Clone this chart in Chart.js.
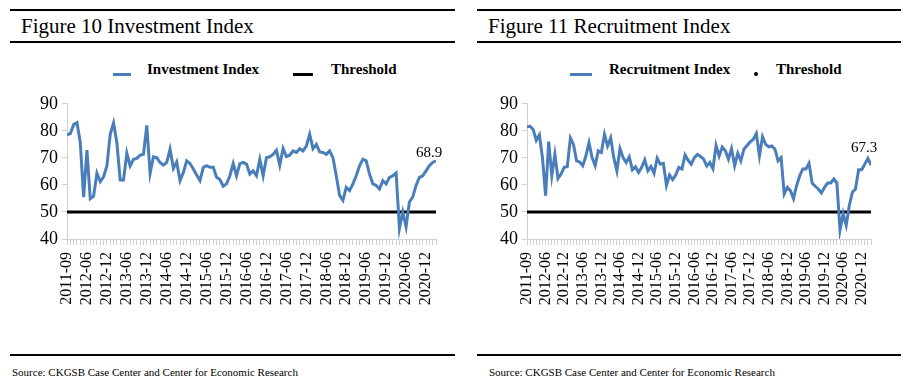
<!DOCTYPE html>
<html>
<head>
<meta charset="utf-8">
<script src="https://cdn.jsdelivr.net/npm/chart.js@4.4.1/dist/chart.umd.min.js"></script>
<style>
  body { margin: 0; width: 908px; height: 388px; background: #fff; position: relative; overflow: hidden; font-family: 'Liberation Serif', serif; color: #000; }
  .rule { position: absolute; height: 2px; background: #000; }
  .title { position: absolute; top: 16px; font-size: 21px; line-height: 21px; white-space: nowrap; }
  .leg { position: absolute; top: 62px; font-size: 15px; line-height: 15px; font-weight: bold; white-space: nowrap; }
  .swatch { position: absolute; top: 73px; height: 3px; }
  .dot { position: absolute; top: 72px; width: 4px; height: 4px; border-radius: 50%; background: #000; }
  .source { position: absolute; top: 367px; font-size: 11px; line-height: 11px; white-space: nowrap; }
  canvas { position: absolute; }
</style>
</head>
<body>
  <!-- left panel -->
  <div class="rule" style="left:10px; width:445px; top:9px;"></div>
  <div class="title" style="left:21px;">Figure 10 Investment Index</div>
  <div class="rule" style="left:10px; width:445px; top:41px;"></div>
  <div class="swatch" style="left:113px; width:18px; background:#4a7ebb;"></div>
  <div class="leg" style="left:147px;">Investment Index</div>
  <div class="swatch" style="left:293px; width:20px; background:#000;"></div>
  <div class="leg" style="left:331px;">Threshold</div>
  <canvas id="investChart" width="455" height="226" style="left:0px; top:89px;"></canvas>
  <div class="rule" style="left:10px; width:445px; top:354px;"></div>
  <div class="source" style="left:12px;">Source: CKGSB Case Center and Center for Economic Research</div>

  <!-- right panel -->
  <div class="rule" style="left:477px; width:424px; top:9px;"></div>
  <div class="title" style="left:488px;">Figure 11 Recruitment Index</div>
  <div class="rule" style="left:477px; width:424px; top:41px;"></div>
  <div class="swatch" style="left:570px; width:22px; background:#4a7ebb;"></div>
  <div class="leg" style="left:609px;">Recruitment Index</div>
  <div class="dot" style="left:754px;"></div>
  <div class="leg" style="left:776px;">Threshold</div>
  <canvas id="recruitChart" width="430" height="226" style="left:460px; top:89px;"></canvas>
  <div class="rule" style="left:477px; width:424px; top:354px;"></div>
  <div class="source" style="left:489px;">Source: CKGSB Case Center and Center for Economic Research</div>

<script>
// one label every 6 months, as printed under the axis
const tickLabels = ['2011-09', '2012-06', '2012-12', '2013-06', '2013-12', '2014-06', '2014-12',
  '2015-06', '2015-12', '2016-06', '2016-12', '2017-06', '2017-12', '2018-06', '2018-12',
  '2019-06', '2019-12', '2020-06', '2020-12'];

const yTicks = [40, 50, 60, 70, 80, 90];
const threshold = 50;

// monthly values, 2011-09 .. 2020-12
const investmentIndex = [
  78.5, 79, 82.3, 83, 75.6, 55.5, 72.9, 54.9, 55.8, 64.3,
  61.2, 63, 67, 78.7, 82.9, 75.6, 61.8, 61.8, 71.7, 67,
  69.5, 69.8, 71, 71.3, 82, 64.3, 70.4, 70.1, 68.3, 67.3,
  68.3, 73.2, 66.1, 68.5, 61.6, 64.6, 68.9, 67.9, 65.9, 63.7,
  61.6, 66.5, 67.1, 66.5, 66.5, 62.8, 62, 59.5, 60.4, 63.4,
  67.9, 63.4, 67.9,
  68.3, 67.7, 64, 65.2, 63.4, 69.5, 63.4, 70.1, 70.4, 71.3,
  72.8, 67.3, 73.5, 70.5, 71, 72.6, 72, 73.4, 72.6, 74.4,
  78.7, 73.4, 75, 72.2, 72, 71.3, 72.6, 70.1, 63.4, 56.1,
  54.3, 59.1, 57.9, 60.4, 63.4, 67.1, 69.5, 68.9, 64, 60.4,
  59.8, 58.5, 61.6, 60.4, 62.8, 63.4, 64.4, 43.9, 50, 44.5,
  53.7, 55.5, 59.8, 62.8, 63.4, 65.2, 67.1, 68.3, 68.9
];

const recruitmentIndex = [
  81.5, 81.7, 80.5, 76.5, 78.5, 70, 56, 76, 63.4, 71.3,
  62.4, 64, 66.5, 66.7, 77.4, 75, 68.9, 68.5, 67.1, 70.7,
  75.6, 70.1, 67.1, 72.6, 72, 78.7, 74.4, 77.4, 70.1, 65.2,
  73.4, 70.1, 68.3, 70.4, 65.6, 66.7, 64.6, 66.5, 69.3, 65.2,
  66.8, 64.3, 69.9, 67.7, 68, 59.8, 63.7, 62, 63.7, 66.5,
  65.9, 71.1, 69.1, 67.7, 70.1, 71.3, 70.5,
  69.5, 67, 68.3, 66, 74.6, 70.7, 74, 72.6, 69.5, 73.4,
  67.1, 71.7, 68.9, 73.2, 74.6, 75.9, 76.8, 79, 70.7, 77.8,
  75, 74.1, 74.4, 73.2, 68.9, 70.1, 56.7, 59.1, 57.9, 54.9,
  59.8, 63.4, 65.9, 65.9, 68, 60.7, 59.5, 58.5, 57, 59.1,
  60.7, 60.7, 62.2, 60.7, 43.3, 49.4, 45.1, 52.4, 57.3, 58.5,
  65.6, 65.6, 67.7, 69.8, 67.3
];

const lineBlue = '#4a7ebb';
const axisGrey = '#d0d0d0';

// writes the latest value above the end of the index line
const endLabel = {
  id: 'endLabel',
  afterDatasetsDraw(chart, args, opts) {
    const meta = chart.getDatasetMeta(0);
    const pt = meta.data[meta.data.length - 1];
    const data = chart.data.datasets[0].data;
    const ctx = chart.ctx;
    ctx.save();
    ctx.font = '15px "Liberation Serif"';
    ctx.fillStyle = '#000';
    ctx.textAlign = 'center';
    ctx.textBaseline = 'bottom';
    ctx.fillText(data[data.length - 1].y.toFixed(1), pt.x + opts.dx, pt.y + opts.dy);
    ctx.restore();
  }
};

function makeChart(id, name, values, labelDy) {
  const ctx = document.getElementById(id).getContext('2d');
  return new Chart(ctx, {
    type: 'line',
    data: {
      datasets: [
        {
          label: name,
          data: values.map((v, i) => ({ x: i, y: v })),
          borderColor: lineBlue,
          borderWidth: 3,
          pointRadius: 0,
          tension: 0
        },
        {
          label: 'Threshold',
          data: [{ x: 0, y: threshold }, { x: values.length - 1, y: threshold }],
          borderColor: '#000',
          borderWidth: 3,
          pointRadius: 0
        }
      ]
    },
    options: {
      responsive: false,
      animation: false,
      layout: { padding: { top: 10, right: 19, left: 0, bottom: 0 } },
      plugins: {
        legend: { display: false },
        tooltip: { enabled: false },
        endLabel: { dx: -7, dy: labelDy }
      },
      scales: {
        x: {
          type: 'linear',
          min: 0,
          max: values.length - 1,
          afterBuildTicks: s => { s.ticks = values.map((_, i) => ({ value: i })); },
          afterFit: s => { s.height = 76; s.paddingLeft = 0; s.paddingRight = 0; },
          ticks: {
            autoSkip: false,
            minRotation: 90,
            maxRotation: 90,
            padding: 7,
            color: '#000',
            font: { family: 'Liberation Serif', size: 16 },
            callback: v => (v % 6 === 0 ? tickLabels[v / 6] : '')
          },
          grid: { drawOnChartArea: false, tickLength: 6, color: axisGrey },
          border: { color: axisGrey }
        },
        y: {
          min: 40,
          max: 90,
          afterBuildTicks: s => { s.ticks = yTicks.map(v => ({ value: v })); },
          afterFit: s => { s.width = 67; },
          ticks: { padding: 4, color: '#000', font: { family: 'Liberation Serif', size: 18 } },
          grid: { drawOnChartArea: false, tickLength: 5, color: axisGrey },
          border: { color: axisGrey }
        }
      }
    },
    plugins: [endLabel]
  });
}

makeChart('investChart', 'Investment Index', investmentIndex, 0);
makeChart('recruitChart', 'Recruitment Index', recruitmentIndex, -10);
</script>
</body>
</html>
